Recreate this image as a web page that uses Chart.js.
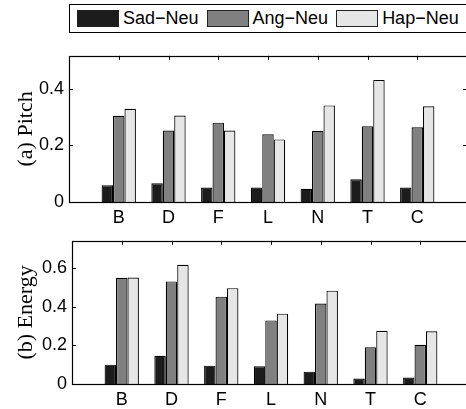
<!DOCTYPE html>
<html>
<head>
<meta charset="utf-8">
<script src="https://cdn.jsdelivr.net/npm/chart.js@4.4.0/dist/chart.umd.min.js"></script>
<style>
  body { margin: 0; width: 466px; height: 409px; overflow: hidden; background: #fff; position: relative;
         font-family: "Liberation Sans", Arial, sans-serif; }
  #legend { position: absolute; left: 69px; top: 4px; width: 410px; height: 29px; border: 1px solid #000;
            box-sizing: border-box; display: flex; align-items: center; padding-left: 7px; font-size: 18px; color: #000; }
  .sw { width: 42px; height: 17px; border: 1px solid #222; box-sizing: border-box; margin-right: 4px; }
  .lab { margin-right: 8px; white-space: nowrap; }
  .box { position: absolute; left: 0; width: 480px; }
</style>
</head>
<body>
<div id="legend"></div>
<div class="box" style="top:40px;height:190px"><canvas id="pitch"></canvas></div>
<div class="box" style="top:225px;height:184px"><canvas id="energy"></canvas></div>
<script>
// data
const categories = ['B', 'D', 'F', 'L', 'N', 'T', 'C'];
const seriesNames = ['Sad\u2212Neu', 'Ang\u2212Neu', 'Hap\u2212Neu'];
const seriesColors = ['#1c1c1c', '#808080', '#e6e6e6'];

const pitchSad = [0.059, 0.066, 0.051, 0.051, 0.047, 0.080, 0.051];
const pitchAng = [0.304, 0.252, 0.280, 0.239, 0.251, 0.267, 0.264];
const pitchHap = [0.329, 0.305, 0.252, 0.221, 0.341, 0.431, 0.338];

const energySad = [0.100, 0.146, 0.095, 0.092, 0.064, 0.028, 0.033];
const energyAng = [0.550, 0.531, 0.452, 0.329, 0.416, 0.190, 0.203];
const energyHap = [0.551, 0.617, 0.496, 0.364, 0.483, 0.275, 0.273];

const pitchMax = 0.516;
const energyMax = 0.741;

Chart.defaults.color = '#000';
Chart.defaults.font.family = '"Liberation Sans", Arial, sans-serif';

// legend
const legend = document.getElementById('legend');
seriesNames.forEach((name, i) => {
  const sw = document.createElement('div');
  sw.className = 'sw';
  sw.style.background = seriesColors[i];
  const lab = document.createElement('span');
  lab.className = 'lab';
  lab.textContent = name;
  legend.appendChild(sw);
  legend.appendChild(lab);
});

// axes box with inward ticks
const frame = {
  id: 'frame',
  beforeDatasetsDraw(chart) {
    const { ctx, chartArea: a, scales: { x } } = chart;
    ctx.save();
    ctx.strokeStyle = '#000';
    ctx.lineWidth = 1;
    ctx.beginPath();
    for (let i = 1; i <= categories.length; i++) {
      const px = Math.round(x.getPixelForTick(i)) + 0.5;
      ctx.moveTo(px, a.bottom);
      ctx.lineTo(px, a.bottom - 4);
    }
    ctx.stroke();
    ctx.restore();
  },
  afterDatasetsDraw(chart) {
    const { ctx, chartArea: a, scales: { x, y } } = chart;
    ctx.save();
    ctx.strokeStyle = '#000';
    ctx.lineWidth = 1.2;
    ctx.strokeRect(Math.round(a.left) + 0.5, Math.round(a.top) + 0.5,
                   Math.round(a.right - a.left), Math.round(a.bottom - a.top));
    ctx.lineWidth = 1;
    ctx.beginPath();
    for (let i = 1; i <= categories.length; i++) {
      const px = Math.round(x.getPixelForTick(i)) + 0.5;
      ctx.moveTo(px, a.top);
      ctx.lineTo(px, a.top + 4);
    }
    y.ticks.forEach(t => {
      if (t.value === 0) return;
      const py = Math.round(y.getPixelForValue(t.value)) + 0.5;
      ctx.moveTo(a.left, py);
      ctx.lineTo(a.left + 4, py);
      ctx.moveTo(a.right, py);
      ctx.lineTo(a.right - 4, py);
    });
    ctx.stroke();
    ctx.restore();
  }
};

function makeChart(id, values, yMax, title, geo) {
  const labels = [''].concat(categories, ['']);
  const datasets = values.map((vals, i) => ({
    label: seriesNames[i],
    data: [null].concat(vals, [null]),
    backgroundColor: seriesColors[i],
    borderColor: '#000',
    borderWidth: 1.2,
    borderSkipped: 'bottom',
    categoryPercentage: 0.69,
    barPercentage: 1.0
  }));
  return new Chart(document.getElementById(id), {
    type: 'bar',
    data: { labels: labels, datasets: datasets },
    options: {
      responsive: true,
      maintainAspectRatio: false,
      animation: false,
      layout: { padding: { top: 8, right: geo.right, left: 0, bottom: 0 } },
      plugins: { legend: { display: false }, tooltip: { enabled: false } },
      scales: {
        x: {
          offset: false,
          grid: { display: false, drawTicks: false },
          border: { display: false },
          ticks: { font: { size: 18 }, padding: 5, maxRotation: 0, autoSkip: false },
          afterFit: s => { s.height = geo.xh; }
        },
        y: {
          min: 0,
          max: yMax,
          grid: { display: false, drawTicks: false },
          border: { display: false },
          ticks: { stepSize: 0.2, includeBounds: false, font: { size: 18 }, padding: 5 },
          title: { display: true, text: title, padding: { top: 13, bottom: 0 },
                   font: { family: '"Liberation Serif", "Times New Roman", serif', size: 22 } },
          afterFit: s => { s.width = geo.yw; }
        }
      }
    },
    plugins: [frame]
  });
}

makeChart('pitch', [pitchSad, pitchAng, pitchHap], pitchMax, '(a) Pitch', { right: 13, xh: 28, yw: 69 });
makeChart('energy', [energySad, energyAng, energyHap], energyMax, '(b) Energy', { right: 10, xh: 25, yw: 72 });
</script>
</body>
</html>
